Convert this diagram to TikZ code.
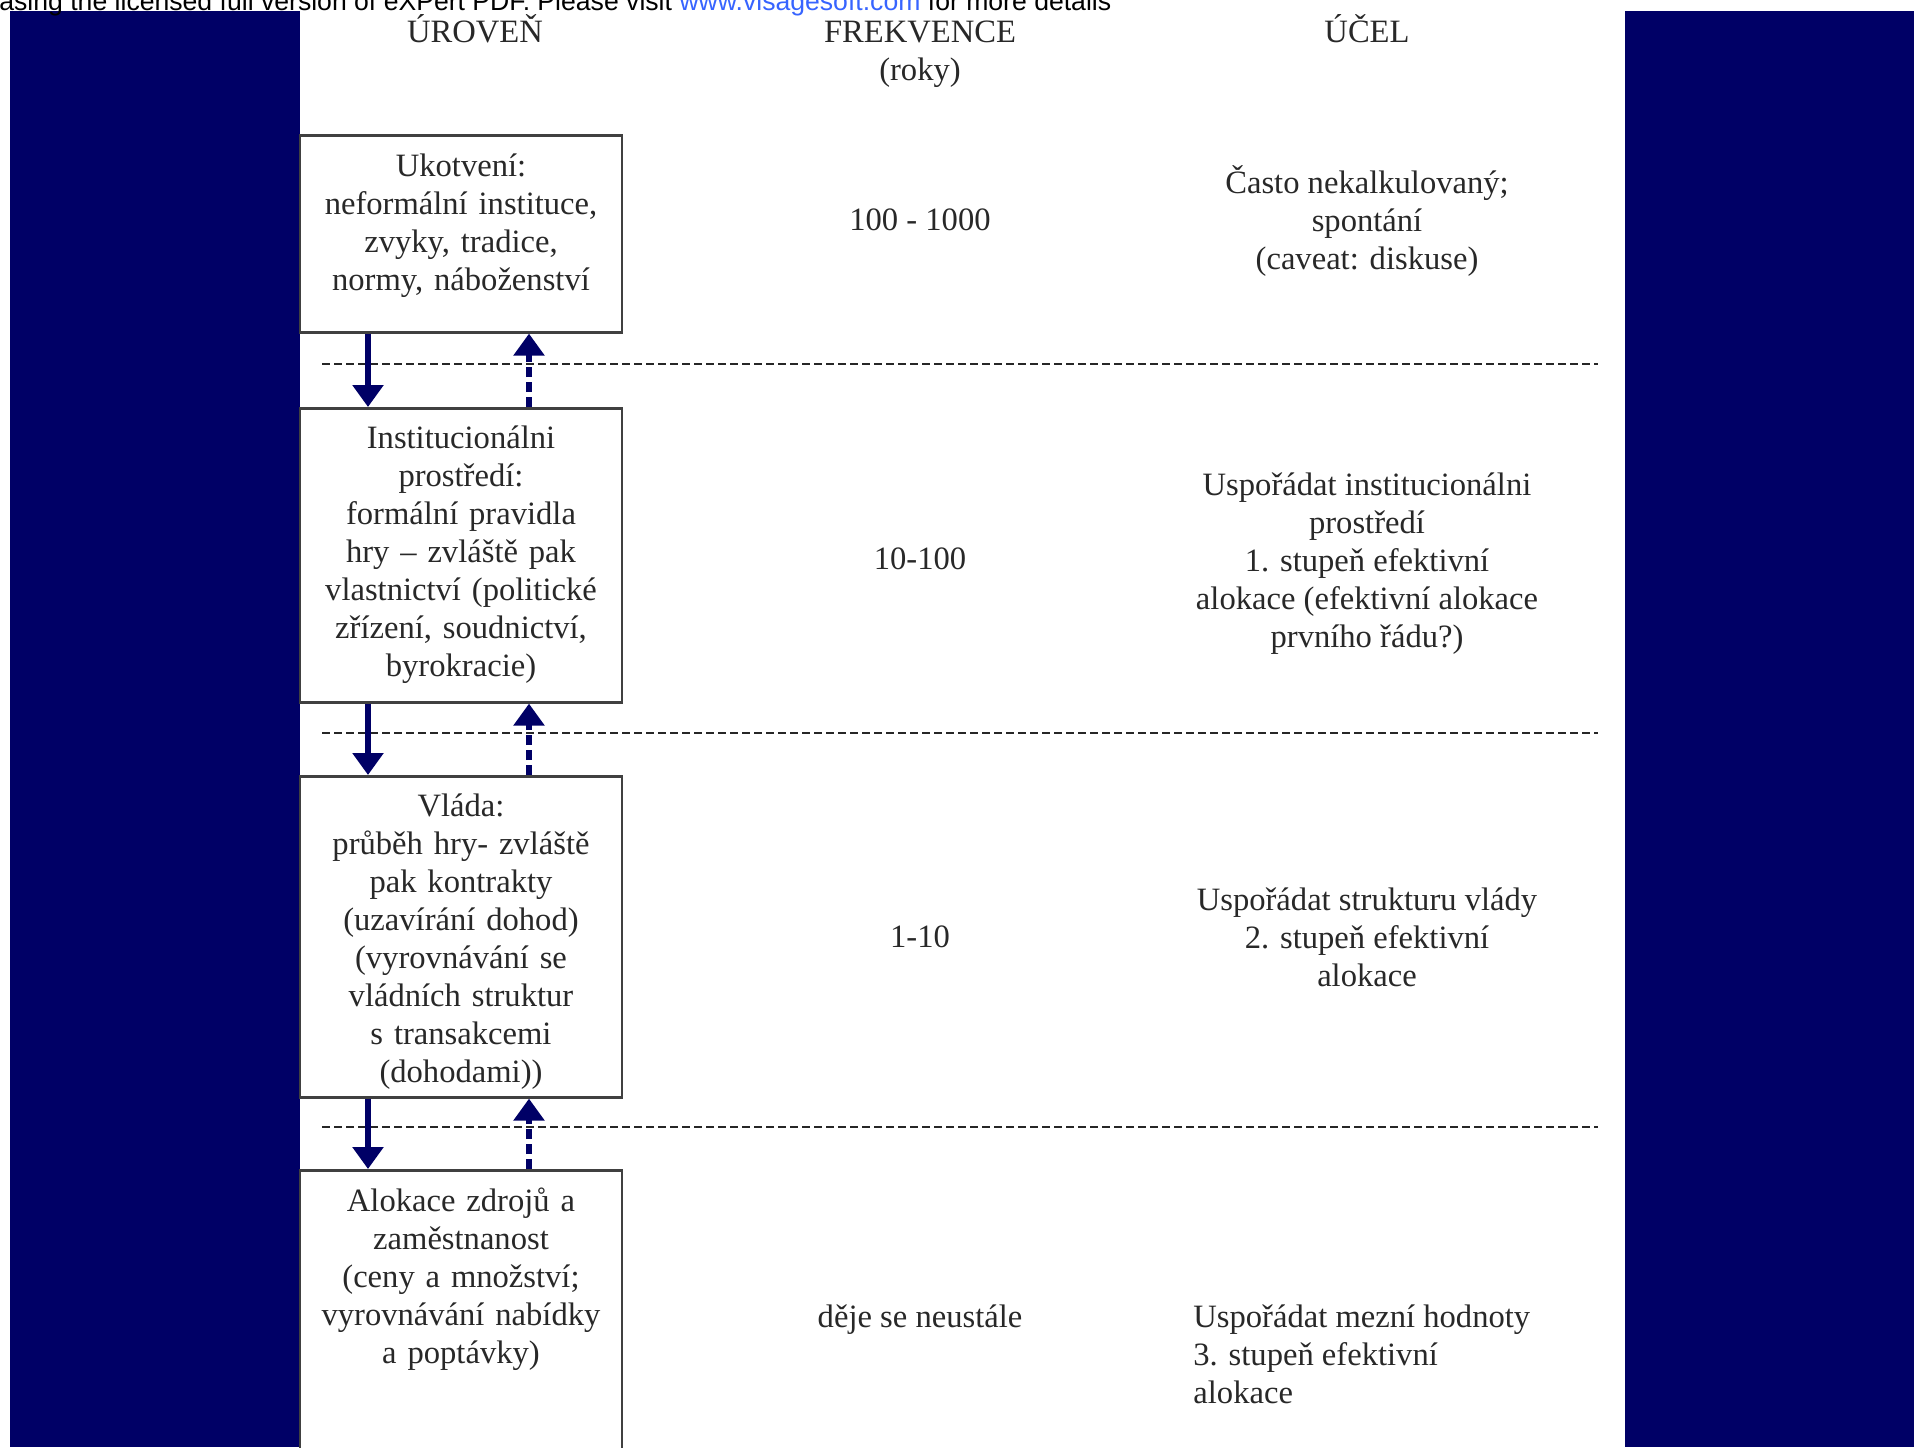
\documentclass[tikz,border=0pt]{standalone}
\usepackage{fontspec}
\setmainfont{Liberation Serif}
\newfontfamily\wmfont{Liberation Sans}
\usetikzlibrary{arrows.meta,calc}
\definecolor{navy}{RGB}{0,0,102}
\definecolor{txtgray}{RGB}{40,40,40}
\definecolor{linkblue}{RGB}{55,100,255}
\tikzset{
  level/.style={draw=black!75,line width=1.3pt,minimum width=161pt,anchor=north,inner sep=0},
  leveltxt/.style={anchor=north,inner sep=0,text width=160pt,align=center,text=txtgray,font=\fontsize{16.3}{19}\selectfont},
  coltxt/.style={inner sep=0,align=center,text=txtgray,font=\fontsize{16.3}{19}\selectfont},
  sep/.style={black!85,line width=1pt,dash pattern=on 4pt off 2pt},
  flowdown/.style={navy,line width=3pt,-{Triangle[width=15pt,length=11pt]}},
  flowup/.style={flowdown,dash pattern=on 5pt off 2.5pt},
}
\begin{document}
\begin{tikzpicture}[x=0.5pt,y=-0.5pt]
  \useasboundingbox (0,0) rectangle (1914,1447);
  \clip (0,0) rectangle (1914,1447);
  % side panels
  \fill[navy] (10,11) rectangle (300,1447);
  \fill[navy] (1625,11) rectangle (1914,1447);
  \node[anchor=base west,inner sep=0,font=\wmfont\fontsize{13.3}{15}\selectfont] (wm) at (-1,10)
    {asing the licensed full version of eXPert PDF. Please visit \textcolor{linkblue}{www.visagesoft.com} for more details};
  % headings
  \node[coltxt,anchor=base] (hlev) at (475,42.5) {ÚROVEŇ};
  \node[coltxt,anchor=north] (hfreq) at (920,21) {FREKVENCE\\(roky)};
  \node[coltxt,anchor=base] (hgoal) at (1367,42.5) {ÚČEL};
  % separators
  \foreach \y in {364,733,1127}
    \draw[sep] (322,\y) -- (1598,\y);
  % levels
  \node[level,minimum height=98.5pt] (u1) at (461,134) {};
  \node[level,minimum height=147pt] (u2) at (461,407) {};
  \node[level,minimum height=160.5pt] (u3) at (461,775) {};
  \node[level,minimum height=160pt] (u4) at (461,1169) {};
  \node[leveltxt] (t1) at ($(u1.north)+(0,19)$) {Ukotvení:\\neformální instituce,\\zvyky, tradice,\\normy, náboženství};
  \node[leveltxt] (t2) at ($(u2.north)+(0,18)$) {Institucionálni\\prostředí:\\formální pravidla\\hry – zvláště pak\\vlastnictví (politické\\zřízení, soudnictví,\\byrokracie)};
  \node[leveltxt] (t3) at ($(u3.north)+(0,18)$) {Vláda:\\průběh hry- zvláště\\pak kontrakty\\(uzavírání dohod)\\(vyrovnávání se\\vládních struktur\\s transakcemi\\(dohodami))};
  \node[leveltxt] (t4) at ($(u4.north)+(0,18)$) {Alokace zdrojů a\\zaměstnanost\\(ceny a množství;\\vyrovnávání nabídky\\a poptávky)};
  % arrows between levels
  \coordinate (dn) at (368,0);
  \coordinate (up) at (529,0);
  \foreach \a/\b in {u1/u2,u2/u3,u3/u4}{
    \draw[flowdown] (\a.south -| dn) -- (\b.north -| dn);
    \draw[flowup] (\b.north -| up) -- (\a.south -| up);
  }
  % frequency
  \node[coltxt] (f1) at (920,220) {100 - 1000};
  \node[coltxt] (f2) at (920,559) {10-100};
  \node[coltxt] (f3) at (920,937) {1-10};
  \node[coltxt] (f4) at (920,1320) {děje se neustále};
  % purpose
  \node[coltxt] (g1) at (1367,221) {Často nekalkulovaný;\\spontání\\(caveat: diskuse)};
  \node[coltxt] (g2) at (1367,564) {Uspořádat institucionálni\\prostředí\\1. stupeň efektivní\\alokace (efektivní alokace\\prvního řádu?)};
  \node[coltxt] (g3) at (1367,937) {Uspořádat strukturu vlády\\2. stupeň efektivní\\alokace};
  \node[coltxt,anchor=west,align=left] (g4) at (1193,1354) {Uspořádat mezní hodnoty\\3. stupeň efektivní\\alokace};
\end{tikzpicture}
\end{document}
